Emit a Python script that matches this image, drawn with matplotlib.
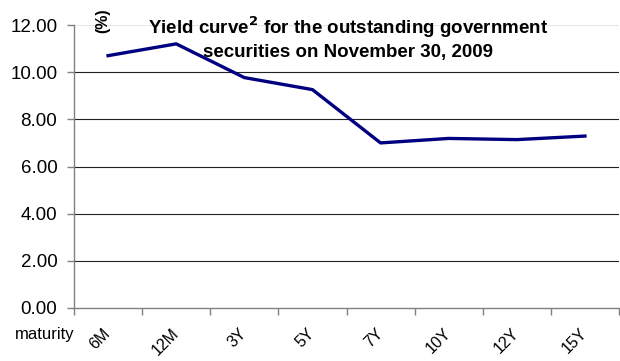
import matplotlib
matplotlib.use("Agg")
import matplotlib.pyplot as plt

categories = ["6M", "12M", "3Y", "5Y", "7Y", "10Y", "12Y", "15Y"]
yields = [10.70, 11.20, 9.77, 9.26, 7.00, 7.19, 7.14, 7.29]
yticks = [0, 2, 4, 6, 8, 10, 12]

plt.rcParams['font.family'] = ['Liberation Sans', 'DejaVu Sans']

W, H = 620, 361
fig = plt.figure(figsize=(W/100, H/100), dpi=100)
left, right, top, bottom = 74, 619, 25, 308
ax = fig.add_axes([left/W, 1-bottom/H, (right-left)/W, (bottom-top)/H])

x = list(range(len(categories)))
ax.set_xlim(-0.5, len(categories)-0.5)
ax.set_ylim(0, 12)

for v in yticks[1:-1]:
    ax.axhline(v, color='#222222', lw=0.8, zorder=1)
ax.axhline(12, color='#e6e6e6', lw=0.8, zorder=1)

ax.plot(x, yields, color='#000080', lw=2.4, zorder=3)

for s in ['top', 'right']:
    ax.spines[s].set_visible(False)
for s in ['left', 'bottom']:
    ax.spines[s].set_color('#808080')
    ax.spines[s].set_linewidth(1.0)

ax.set_yticks(yticks)
ax.set_yticklabels([f"{v:.2f}" for v in yticks], fontsize=13.5)
ax.tick_params(axis='y', length=5, width=1, color='#808080', pad=7)

ax.set_xticks([i-0.5 for i in range(len(categories)+1)])
ax.set_xticklabels([])
ax.tick_params(axis='x', length=5, width=1, color='#808080')
for i, c in enumerate(categories):
    ax.text(i-0.08, -0.75, c, rotation=45, ha='right', va='top',
            rotation_mode='anchor', fontsize=11.5,
            transform=ax.transData, clip_on=False)

fig.text(15/W, 1-335/H, "maturity", fontsize=12, ha='left', va='center')

fig.text(348/W, 1-27/H, r"Yield curve$^{\mathbf{2}}$ for the outstanding government",
         fontsize=13.5, fontweight='bold', ha='center', va='center')
fig.text(348/W, 1-53/H, "securities on November 30, 2009",
         fontsize=13.5, fontweight='bold', ha='center', va='center')
fig.text(103/W, 1-21/H, "(%)", rotation=90, fontsize=11.5, fontweight='bold',
         ha='center', va='center')

fig.savefig("out.png", dpi=100)
